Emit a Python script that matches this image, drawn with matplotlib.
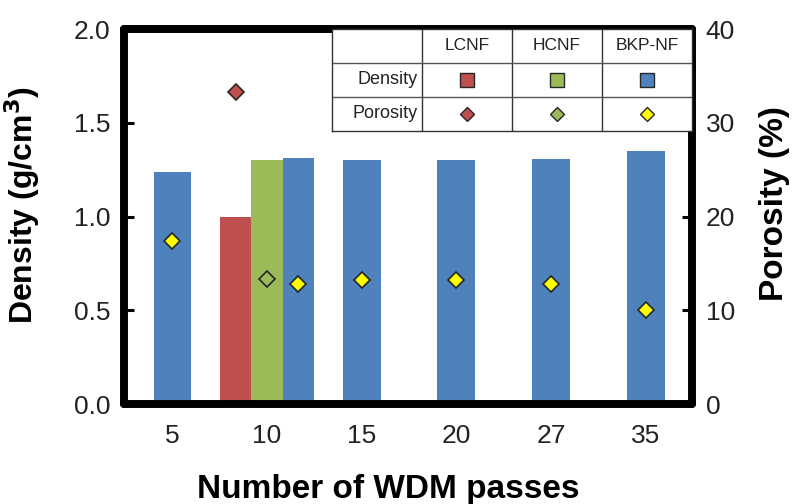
import numpy as np
import matplotlib.pyplot as plt

plt.rcParams['font.family'] = ['Liberation Sans', 'DejaVu Sans']

# WDM pass counts and measured values
passes = ['5', '10', '15', '20', '27', '35']
bkp_density = [1.24, 1.315, 1.30, 1.30, 1.31, 1.35]
bkp_porosity = [17.4, 12.8, 13.3, 13.3, 12.8, 10.0]
lcnf_density = 1.00
lcnf_porosity = 33.3
hcnf_density = 1.30
hcnf_porosity = 13.4

samples = ['LCNF', 'HCNF', 'BKP-NF']
rows = ['Density', 'Porosity']

blue = '#4F81BD'
red = '#C0504D'
green = '#9BBB59'
yellow = '#FFFF00'
edge = '#262626'

x = np.arange(len(passes), dtype=float)
# at 10 passes the three samples share the slot
x_bkp = x.copy()
w_single = 0.40
w_group = 0.33
x_bkp[1] = x[1] + w_group
widths = np.full(len(passes), w_single)
widths[1] = w_group

fig = plt.figure(figsize=(7.95, 5.04), dpi=100)
ax = fig.add_axes([0.156, 0.198, 0.714, 0.744])
ax2 = ax.twinx()

ax.bar(x_bkp, bkp_density, width=widths, color=blue, zorder=2)
ax.bar(x[1] - w_group, lcnf_density, width=w_group, color=red, zorder=2)
ax.bar(x[1], hcnf_density, width=w_group, color=green, zorder=2)

ax2.plot(x_bkp, np.array(bkp_porosity), 'D', ms=8.5, mfc=yellow, mec=edge, mew=1.2, zorder=3)
ax2.plot([x[1] - w_group], [lcnf_porosity], 'D', ms=8.5, mfc=red, mec=edge, mew=1.2, zorder=3)
ax2.plot([x[1]], [hcnf_porosity], 'D', ms=8.5, mfc=green, mec=edge, mew=1.2, zorder=3)

ax.set_xlim(-0.512, 5.486)
ax.set_ylim(0, 2.0)
ax2.set_ylim(0, 40)
ax.set_yticks([0, 0.5, 1.0, 1.5, 2.0])
ax.set_yticklabels(['0.0', '0.5', '1.0', '1.5', '2.0'])
ax2.set_yticks([0, 10, 20, 30, 40])
ax.set_xticks(x)
ax.set_xticklabels(passes)

for a in (ax, ax2):
    for s in a.spines.values():
        s.set_linewidth(5.5)
        s.set_capstyle('round')
ax.tick_params(axis='y', direction='in', length=7, width=2.2, labelsize=19, pad=10,
               colors='black', labelcolor='#222222')
ax2.tick_params(axis='y', direction='in', length=7, width=2.2, labelsize=19, pad=10,
                labelcolor='#222222')
ax.tick_params(axis='x', length=0, labelsize=19, pad=14, labelcolor='#222222')

ax.set_ylabel('Density (g/cm$^\\mathbf{3}$)', fontsize=23, fontweight='bold')
ax.yaxis.set_label_coords(-0.144, 0.53)
ax2.set_ylabel('Porosity (%)', fontsize=24, fontweight='bold')
ax2.yaxis.set_label_coords(1.119, 0.535)
ax.set_xlabel('Number of WDM passes', fontsize=24, fontweight='bold')
ax.xaxis.set_label_coords(0.465, -0.185)

# legend table in the upper right corner
leg = fig.add_axes([332 / 795, 1 - 131 / 504, (692 - 332) / 795, (131 - 29) / 504])
leg.set_xlim(0, 4)
leg.set_ylim(0, 3)
leg.set_facecolor('white')
leg.set_zorder(5)
for s in leg.spines.values():
    s.set_linewidth(1.0)
    s.set_color('#333333')
leg.set_xticks([])
leg.set_yticks([])
for k in range(1, 4):
    leg.axvline(k, color='#333333', lw=1.0)
for k in range(1, 3):
    leg.axhline(k, color='#555555', lw=1.0)
for j, name in enumerate(samples):
    leg.text(j + 1.5, 2.5, name, ha='center', va='center', fontsize=12.5, color='#222222')
for i, name in enumerate(rows):
    leg.text(0.95, 1.5 - i, name, ha='right', va='center', fontsize=13, color='#222222')
for j, c in enumerate([red, green, blue]):
    leg.plot(j + 1.5, 1.5, 's', ms=10, mfc=c, mec=edge, mew=1.0)
for j, c in enumerate([red, green, yellow]):
    leg.plot(j + 1.5, 0.5, 'D', ms=7, mfc=c, mec=edge, mew=1.0)

fig.savefig('out.png', dpi=100)
